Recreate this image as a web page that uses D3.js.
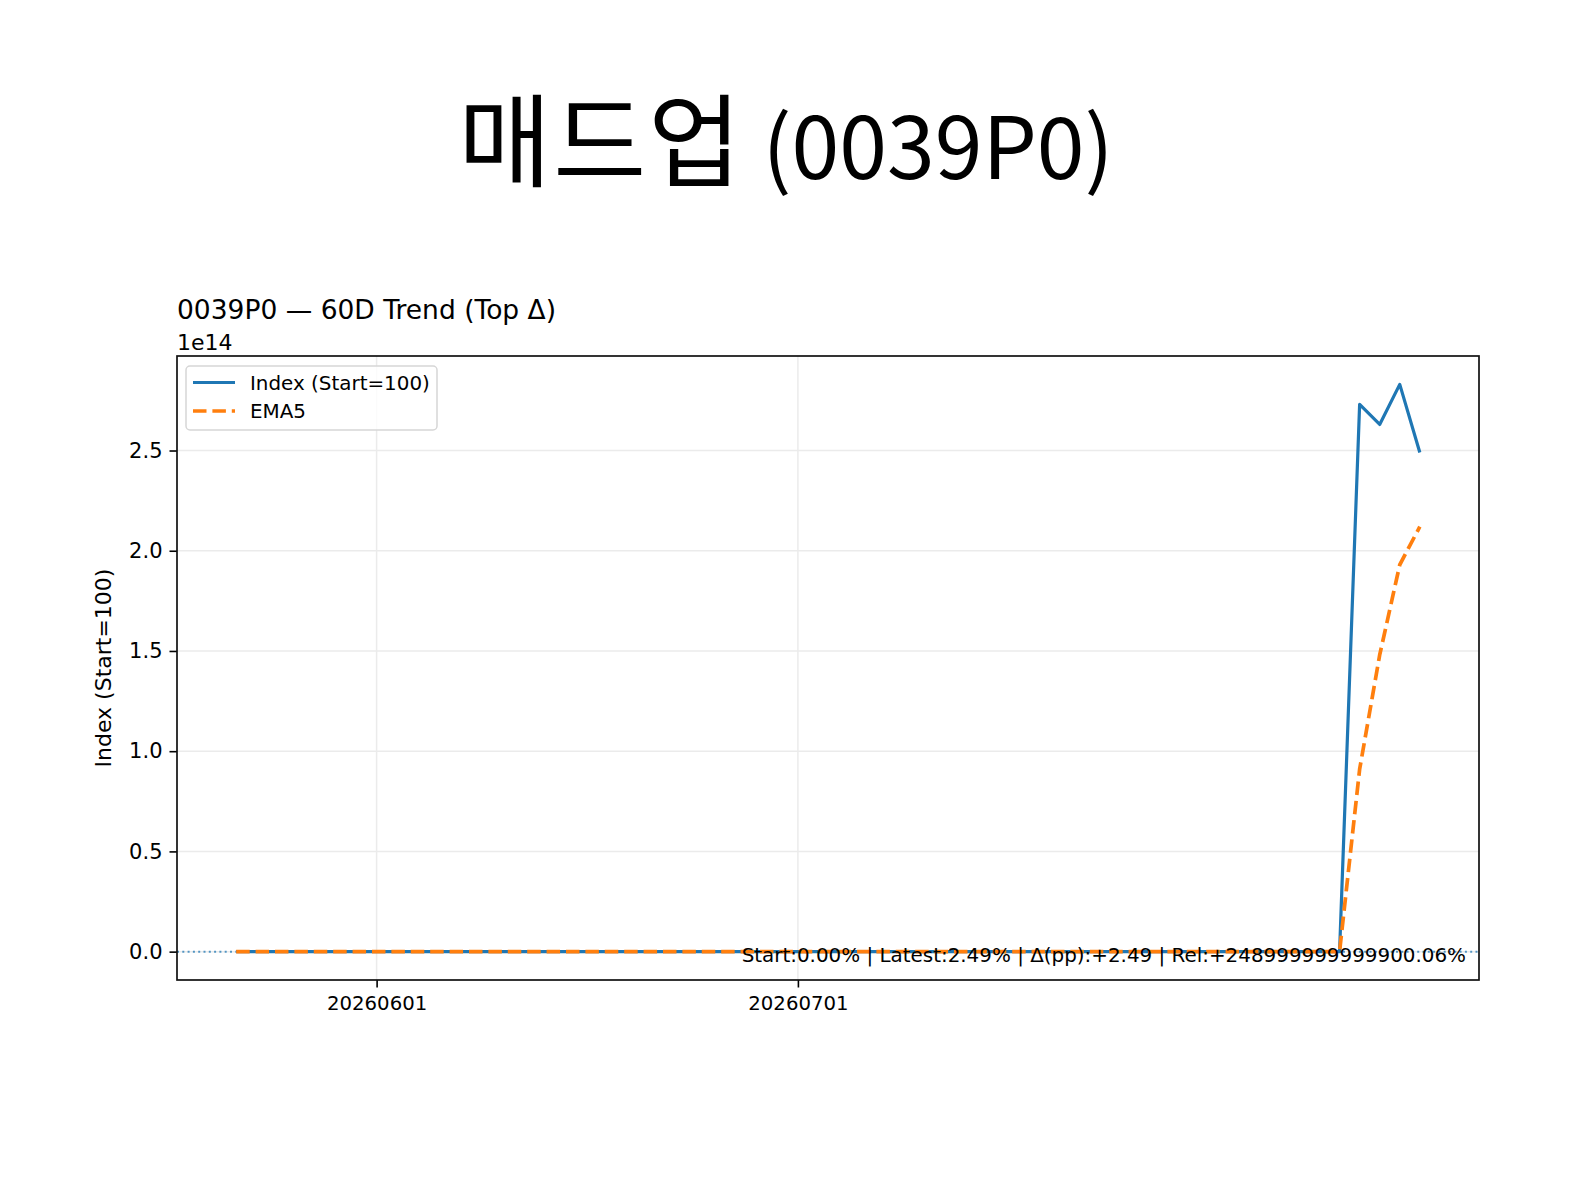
<!DOCTYPE html>
<html>
<head>
<meta charset="utf-8">
<script src="https://cdn.jsdelivr.net/npm/d3@7"></script>
<style>
  body { margin: 0; background: #fff; }
  svg text { font-family: "DejaVu Sans", sans-serif; fill: #000; }
</style>
</head>
<body>
<svg id="chart" width="1573" height="1179"></svg>
<script>
// trading days shown on the x axis (one point each)
const dates = [
  "20260520","20260521","20260522","20260526","20260527","20260528","20260529",
  "20260601","20260602","20260604","20260605","20260608","20260609","20260610",
  "20260611","20260612","20260615","20260616","20260617","20260618","20260619",
  "20260622","20260623","20260624","20260625","20260626","20260629","20260630",
  "20260701","20260702","20260703","20260706","20260707","20260708","20260709",
  "20260710","20260713","20260714","20260715","20260716","20260717","20260720",
  "20260721","20260722","20260723","20260724","20260727","20260728","20260729",
  "20260730","20260731","20260803","20260804","20260805","20260806","20260807",
  "20260810","20260811","20260812","20260813"
];
const indexValues = [
  100,100,100,100,100,100,100,100,100,100,
  100,100,100,100,100,100,100,100,100,100,
  100,100,100,100,100,100,100,100,100,100,
  100,100,100,100,100,100,100,100,100,100,
  100,100,100,100,100,100,100,100,100,100,
  100,100,100,100,100,100,
  2.73e14, 2.63e14, 2.83e14, 2.49e14
];
const ema5Values = [
  100,100,100,100,100,100,100,100,100,100,
  100,100,100,100,100,100,100,100,100,100,
  100,100,100,100,100,100,100,100,100,100,
  100,100,100,100,100,100,100,100,100,100,
  100,100,100,100,100,100,100,100,100,100,
  100,100,100,100,100,100,
  0.91e14, 1.48e14, 1.93e14, 2.12e14
];
const yTicks = [0, 0.5, 1.0, 1.5, 2.0, 2.5]; // in units of 1e14
const baseLine = 100;
const seriesNames = ["Index (Start=100)", "EMA5"];
const titleName = "매드업";
const titleCode = " (0039P0)";
const axTitle = "0039P0 — 60D Trend (Top Δ)";
const note = "Start:0.00% | Latest:2.49% | Δ(pp):+2.49 | Rel:+248999999999900.06%";

const blue = "#1f77b4", orange = "#ff7f0e";
const svg = d3.select("#chart");
const L = 177, R = 1479, T = 356, B = 980;

// matplotlib style 5% margins
const n = dates.length;
const xpad = (n - 1) * 0.05;
const x = d3.scaleLinear().domain([-xpad, n - 1 + xpad]).range([L, R]);
const allV = indexValues.concat(ema5Values);
const ymin = d3.min(allV), ymax = d3.max(allV);
const ypad = (ymax - ymin) * 0.05;
const y = d3.scaleLinear().domain([ymin - ypad, ymax + ypad]).range([B, T]);

const xTickIdx = dates.map((d, i) => i).filter(i => dates[i].endsWith("01"));

// grid
const grid = svg.append("g");
grid.selectAll(".gx").data(xTickIdx).join("line")
    .attr("x1", d => x(d)).attr("x2", d => x(d))
    .attr("y1", T).attr("y2", B)
    .attr("stroke", "#ebebeb").attr("stroke-width", 1.5);
grid.selectAll(".gy").data(yTicks).join("line")
    .attr("x1", L).attr("x2", R)
    .attr("y1", d => y(d * 1e14)).attr("y2", d => y(d * 1e14))
    .attr("stroke", "#ebebeb").attr("stroke-width", 1.5);

// baseline dotted
svg.append("line")
    .attr("x1", L).attr("x2", R)
    .attr("y1", y(baseLine)).attr("y2", y(baseLine))
    .attr("stroke", blue).attr("stroke-opacity", 0.75)
    .attr("stroke-width", 2).attr("stroke-dasharray", "2,3.3");

const line = d3.line().x((d, i) => x(i)).y(d => y(d));

svg.append("path")
    .attr("d", line(indexValues))
    .attr("fill", "none").attr("stroke", blue)
    .attr("stroke-width", 3.2).attr("stroke-linejoin", "round");

svg.append("path")
    .attr("d", line(ema5Values))
    .attr("fill", "none").attr("stroke", orange)
    .attr("stroke-width", 3.7).attr("stroke-dasharray", "13.5,5.9");

// axes
const yAxis = d3.axisLeft(y)
    .tickValues(yTicks.map(d => d * 1e14))
    .tickFormat(d => (d / 1e14).toFixed(1))
    .tickSize(7.5).tickPadding(7);
const gy = svg.append("g").attr("transform", `translate(${L},0)`).call(yAxis);
gy.select(".domain").remove();
gy.selectAll("text").style("font-size", "21px").style("font-family", "DejaVu Sans");
gy.selectAll("line").attr("stroke-width", 1.6);

const xAxis = d3.axisBottom(x)
    .tickValues(xTickIdx)
    .tickFormat(i => dates[i])
    .tickSize(7.5).tickPadding(9);
const gx = svg.append("g").attr("transform", `translate(0,${B})`).call(xAxis);
gx.select(".domain").remove();
gx.selectAll("text").style("font-size", "19.7px").style("font-family", "DejaVu Sans");
gx.selectAll("line").attr("stroke-width", 1.6);

// frame
svg.append("rect")
    .attr("x", L).attr("y", T).attr("width", R - L).attr("height", B - T)
    .attr("fill", "none").attr("stroke", "#111").attr("stroke-width", 1.7);

// annotation
svg.append("text")
    .attr("x", L + 0.99 * (R - L)).attr("y", 962)
    .attr("text-anchor", "end")
    .style("font-size", "19.9px")
    .text(note);

// legend
const lg = svg.append("g");
lg.append("rect")
    .attr("x", 186).attr("y", 366).attr("width", 251).attr("height", 64)
    .attr("rx", 4)
    .attr("fill", "#fff").attr("fill-opacity", 0.8)
    .attr("stroke", "#d6d6d6").attr("stroke-width", 1.5);
const lgItems = [
  { name: seriesNames[0], color: blue, dash: null, w: 3.2 },
  { name: seriesNames[1], color: orange, dash: "13.5,5.9", w: 3.7 }
];
lgItems.forEach((d, i) => {
  const yy = 382.5 + i * 28.5;
  lg.append("line")
    .attr("x1", 193).attr("x2", 235).attr("y1", yy).attr("y2", yy)
    .attr("stroke", d.color).attr("stroke-width", d.w)
    .attr("stroke-dasharray", d.dash);
  lg.append("text")
    .attr("x", 250).attr("y", yy + 7)
    .style("font-size", "19.9px")
    .text(d.name);
});

// y label
svg.append("text")
    .attr("transform", `translate(111,${(T + B) / 2}) rotate(-90)`)
    .attr("text-anchor", "middle")
    .style("font-size", "22px")
    .text(seriesNames[0]);

// offset label
svg.append("text")
    .attr("x", L).attr("y", 350)
    .style("font-size", "22px")
    .text("1e14");

// axes title
svg.append("text")
    .attr("x", L).attr("y", 319)
    .style("font-size", "26.5px")
    .text(axTitle);

// figure title
const tt = svg.append("text")
    .attr("x", 786).attr("y", 179)
    .attr("text-anchor", "middle")
    .style("font-family", "'Noto Sans CJK KR', 'Noto Sans', sans-serif");
tt.append("tspan").style("font-size", "101px").attr("letter-spacing", "2px").text(titleName);
tt.append("tspan").style("font-size", "86px").text(titleCode);
</script>
</body>
</html>
